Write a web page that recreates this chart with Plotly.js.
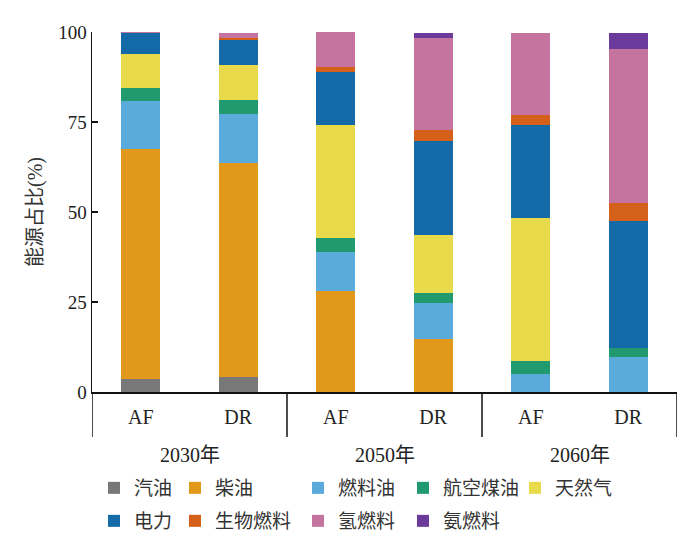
<!DOCTYPE html>
<html>
<head>
<meta charset="utf-8">
<script src="https://cdn.plot.ly/plotly-3.0.1.min.js"></script>
<style>
    html, body { margin: 0; padding: 0; background: #fff; }
    #chart { width: 694px; height: 543px; }
</style>
</head>
<body>
<div id="chart"></div>
<script>
// categories: year group + scenario
const years = ["2030年", "2030年", "2050年", "2050年", "2060年", "2060年"];
const scenarios = ["AF", "DR", "AF", "DR", "AF", "DR"];

// energy shares (%) per bar
const gasoline    = [3.5, 4.1, 0, 0, 0, 0];
const diesel      = [63.9, 59.6, 28.0, 14.6, 0, 0];
const fuelOil     = [13.4, 13.4, 10.9, 10.1, 4.9, 9.7];
const jetFuel     = [3.6, 4.0, 3.9, 2.8, 3.7, 2.6];
const naturalGas  = [9.5, 9.8, 31.5, 16.0, 39.7, 0];
const electricity = [5.8, 7.0, 14.6, 26.2, 26.0, 35.2];
const biofuel     = [0, 0.5, 1.4, 3.2, 2.6, 5.0];
const hydrogen    = [0.2, 1.2, 9.7, 25.5, 22.7, 42.9];
const ammonia     = [0.1, 0, 0, 1.4, 0, 4.2];

const seriesNames = ["汽油", "柴油", "燃料油", "航空煤油", "天然气", "电力", "生物燃料", "氢燃料", "氨燃料"];
const seriesValues = [gasoline, diesel, fuelOil, jetFuel, naturalGas, electricity, biofuel, hydrogen, ammonia];
const seriesColors = ["#787878", "#E0991A", "#5AABDC", "#219A70", "#E8DA4A", "#146AA6", "#D5601A", "#C5739F", "#6B3A9B"];

// legend grid: [left of text in px, row centre in px]
const legendSlots = [
    [130, 488], [211, 488], [334, 488], [439, 488], [551, 488],
    [130, 521], [211, 521], [334, 521], [439, 521]
];

const W = 694;
const H = 543;
const PLOT_H = 360;
const FONT = "Liberation Serif, Noto Sans CJK SC, serif";

// one unique category per bar, labelled with its scenario
const barKeys = years.map((y, i) => y + " " + scenarios[i]);

// year groups: first index and count
const groups = [];
years.forEach((y, i) => {
    const last = groups[groups.length - 1];
    if (last && last.name === y) {
        last.count += 1;
    } else {
        groups.push({ name: y, start: i, count: 1 });
    }
});

const traces = seriesNames.map((name, i) => {
    return {
        type: "bar",
        name,
        x: barKeys,
        y: seriesValues[i],
        marker: { color: seriesColors[i], line: { width: 0 } },
        legend: i === 0 ? "legend" : "legend" + (i + 1),
        hoverinfo: "name+y"
    };
});

// group dividers below the axis
const dividerDepth = 45 / PLOT_H;
const dividerPositions = [-0.5].concat(groups.map(g => g.start + g.count - 0.5));
const shapes = dividerPositions.map(pos => {
    return {
        type: "line",
        xref: "x",
        yref: "paper",
        x0: pos,
        x1: pos,
        y0: 0,
        y1: -dividerDepth,
        line: { color: "#111", width: 1.5 }
    };
});

// year labels centred under each group
const annotations = groups.map(g => {
    return {
        xref: "x",
        yref: "paper",
        x: g.start + (g.count - 1) / 2,
        y: -(63 / PLOT_H),
        yanchor: "middle",
        xanchor: "center",
        showarrow: false,
        text: g.name,
        font: { family: FONT, size: 20, color: "#222" }
    };
});

const layout = {
    width: W,
    height: H,
    paper_bgcolor: "#fff",
    plot_bgcolor: "#fff",
    font: { family: FONT, color: "#222", size: 18 },
    margin: { l: 92, r: 17, t: 32, b: 151 },
    barmode: "stack",
    bargap: 0.6,

    xaxis: {
        type: "category",
        tickvals: barKeys,
        ticktext: scenarios,
        range: [-0.5, barKeys.length - 0.5],
        showline: true,
        linecolor: "#111",
        linewidth: 1.5,
        ticks: "",
        ticklabelstandoff: 6,
        showgrid: false,
        zeroline: false,
        tickfont: { family: FONT, size: 20, color: "#222" }
    },

    yaxis: {
        range: [0, 100],
        tickvals: [0, 25, 50, 75, 100],
        ticks: "inside",
        ticklen: 6,
        tickwidth: 1.5,
        tickcolor: "#111",
        showline: true,
        linecolor: "#111",
        linewidth: 1.5,
        showgrid: false,
        zeroline: false,
        tickfont: { family: FONT, size: 19, color: "#222" },
        title: {
            text: "能源占比(%)",
            font: { family: FONT, size: 20, color: "#333" },
            standoff: 10
        }
    },

    shapes,
    annotations,
    showlegend: true
};

legendSlots.forEach((slot, i) => {
    const key = i === 0 ? "legend" : "legend" + (i + 1);
    layout[key] = {
        xref: "container",
        yref: "container",
        x: (slot[0] - 36) / W,
        y: 1 - slot[1] / H,
        xanchor: "left",
        yanchor: "middle",
        orientation: "h",
        bgcolor: "rgba(0,0,0,0)",
        borderwidth: 0,
        font: { family: FONT, size: 19, color: "#333" }
    };
});

Plotly.newPlot("chart", traces, layout, { displayModeBar: false, staticPlot: true });
</script>
</body>
</html>
